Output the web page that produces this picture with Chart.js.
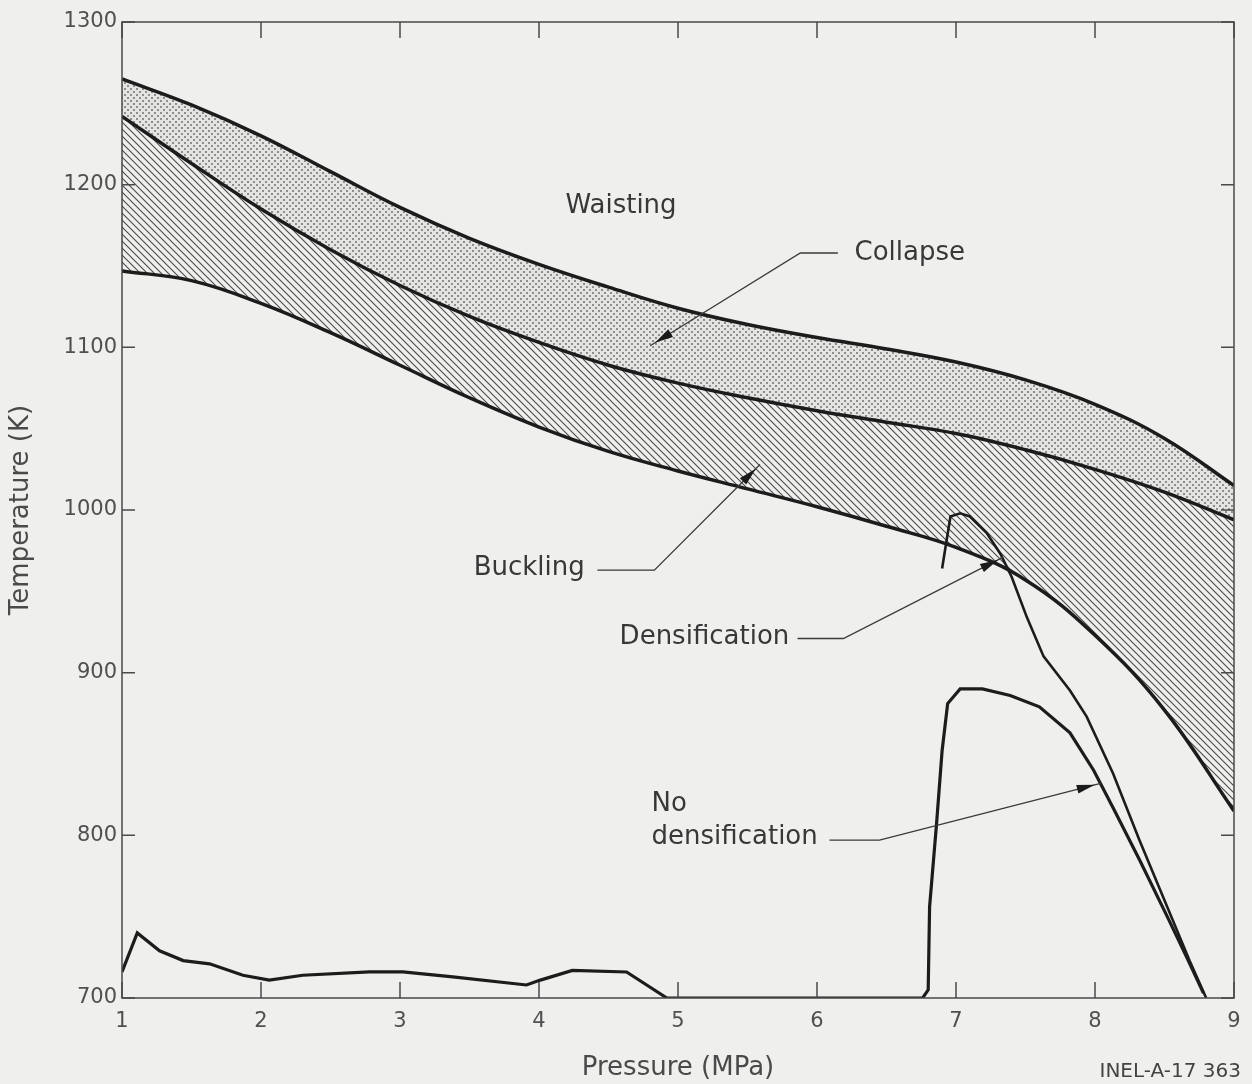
<!DOCTYPE html>
<html>
<head>
<meta charset="utf-8">
<script src="https://cdn.jsdelivr.net/npm/chart.js@4.4.1/dist/chart.umd.min.js"></script>
<style>
  html, body { margin: 0; padding: 0; background: #efefed; }
  #wrap { width: 1252px; height: 1084px; }
</style>
</head>
<body>
<div id="wrap"><canvas id="chart" width="1252" height="1084"></canvas></div>
<script>
/* ─── Data ───────────────────────────────────────────── */
const PRESSURE = [1, 1.5, 2, 2.5, 3, 3.5, 4, 4.5, 5, 5.5, 6, 6.5, 7, 7.5, 8, 8.5, 9];
// upper edge of collapse band (waisting above)
const WAISTING_EDGE = [1265, 1249, 1230, 1208, 1186, 1167, 1151, 1137, 1124, 1114, 1106, 1099, 1091, 1080, 1065, 1044, 1015];
// collapse / buckling boundary
const COLLAPSE_EDGE = [1242, 1213, 1185, 1160, 1138, 1119, 1103, 1089, 1078, 1069, 1061, 1054, 1047, 1037, 1025, 1011, 994];
// lower edge of buckling band
const BUCKLING_EDGE = [1147, 1141, 1127, 1109, 1089, 1069, 1051, 1036, 1024, 1013, 1002, 990, 977, 957, 923, 877, 815];

const DENS_P = [6.90, 6.96, 7.03, 7.10, 7.22, 7.32, 7.40, 7.51, 7.63, 7.82, 7.94, 8.13, 8.32, 8.52, 8.68, 8.80];
const DENS_T = [964, 996, 998, 996, 986, 973, 959, 934, 910, 889, 873, 838, 797, 756, 723, 700];

const NODENS_P = [1.0, 1.11, 1.27, 1.44, 1.63, 1.87, 2.06, 2.30, 2.78, 3.02, 3.38, 3.91, 4.01, 4.24, 4.63, 4.92,
                  6.76, 6.80, 6.81, 6.86, 6.90, 6.94, 7.03, 7.19, 7.39, 7.60, 7.82, 7.99, 8.13, 8.32, 8.52, 8.66, 8.78];
const NODENS_T = [716, 740, 729, 723, 721, 714, 711, 714, 716, 716, 713, 708, 711, 717, 716, 700,
                  700, 705, 756, 807, 852, 881, 890, 890, 886, 879, 863, 840, 817, 785, 750, 725, 703];

const X_TICKS = [1, 2, 3, 4, 5, 6, 7, 8, 9];
const Y_TICKS = [700, 800, 900, 1000, 1100, 1200, 1300];

// annotation labels and leader lines, in data coordinates
const LABELS = [
  { text: 'Waisting', x: 4.59, y: 1187, align: 'center' },
  { text: 'Collapse', x: 6.27, y: 1158, align: 'left' },
  { text: 'Buckling', x: 3.53, y: 964, align: 'left' },
  { text: 'Densification', x: 4.58, y: 922, align: 'left' },
  { text: 'No', x: 4.81, y: 819, align: 'left' },
  { text: 'densification', x: 4.81, y: 799, align: 'left' },
];
const LEADERS = [
  [[6.15, 1158], [5.88, 1158], [4.80, 1101]],
  [[4.42, 963], [4.83, 963], [5.59, 1028]],
  [[5.86, 921], [6.19, 921], [7.34, 971]],
  [[6.09, 797], [6.45, 797], [8.04, 832]],
];

/* ─── Fill patterns ───────────────────────────────────── */
function dotPattern() {
  const c = document.createElement('canvas');
  c.width = 6; c.height = 6;
  const g = c.getContext('2d');
  g.fillStyle = '#e4e4e2'; g.fillRect(0, 0, 6, 6);
  g.fillStyle = '#8e8e8c';
  g.fillRect(1, 1, 2, 2);
  g.fillRect(4, 4, 2, 2);
  return g.createPattern(c, 'repeat');
}
function hatchPattern() {
  const s = 7;
  const c = document.createElement('canvas');
  c.width = s; c.height = s;
  const g = c.getContext('2d');
  g.strokeStyle = '#4a4a4a'; g.lineWidth = 1.1;
  g.beginPath();
  g.moveTo(0, 0); g.lineTo(s, s);
  g.moveTo(-1, s - 1); g.lineTo(1, s + 1);
  g.moveTo(s - 1, -1); g.lineTo(s + 1, 1);
  g.stroke();
  return g.createPattern(c, 'repeat');
}

const pts = (xs, ys) => xs.map((x, i) => ({ x, y: ys[i] }));
const FONT = "'DejaVu Sans', Verdana, sans-serif";
const INK = '#1c1c1c';

/* ─── Frame, inward ticks, annotations ───────────────── */
const framePlugin = {
  id: 'frame',
  afterDraw(chart) {
    const { ctx, chartArea: a, scales: { x, y } } = chart;
    ctx.save();
    ctx.strokeStyle = '#4a4a4a'; ctx.lineWidth = 1.5;
    ctx.strokeRect(a.left, a.top, a.right - a.left, a.bottom - a.top);
    ctx.beginPath();
    X_TICKS.forEach(v => {
      const px = x.getPixelForValue(v);
      ctx.moveTo(px, a.bottom); ctx.lineTo(px, a.bottom - 16);
      ctx.moveTo(px, a.top); ctx.lineTo(px, a.top + 16);
    });
    Y_TICKS.forEach(v => {
      const py = y.getPixelForValue(v);
      ctx.moveTo(a.left, py); ctx.lineTo(a.left + 13, py);
      ctx.moveTo(a.right, py); ctx.lineTo(a.right - 13, py);
    });
    ctx.stroke();

    // leader lines with arrowheads
    ctx.strokeStyle = '#3a3a3a'; ctx.fillStyle = '#1a1a1a'; ctx.lineWidth = 1.3;
    LEADERS.forEach(path => {
      const p = path.map(([vx, vy]) => [x.getPixelForValue(vx), y.getPixelForValue(vy)]);
      ctx.beginPath();
      p.forEach(([px, py], i) => i ? ctx.lineTo(px, py) : ctx.moveTo(px, py));
      ctx.stroke();
      const [x1, y1] = p[p.length - 2], [x2, y2] = p[p.length - 1];
      const ang = Math.atan2(y2 - y1, x2 - x1);
      const tipX = x2 - Math.cos(ang) * 6, tipY = y2 - Math.sin(ang) * 6;
      ctx.save();
      ctx.translate(tipX, tipY); ctx.rotate(ang);
      ctx.beginPath();
      ctx.moveTo(0, 0); ctx.lineTo(-18, -4.5); ctx.lineTo(-18, 4.5); ctx.closePath();
      ctx.fill();
      ctx.restore();
    });

    ctx.fillStyle = '#383838';
    ctx.font = '26px ' + FONT;
    ctx.textBaseline = 'middle';
    LABELS.forEach(l => {
      ctx.textAlign = l.align;
      ctx.fillText(l.text, x.getPixelForValue(l.x), y.getPixelForValue(l.y));
    });

    ctx.font = '20px ' + FONT;
    ctx.textAlign = 'right';
    ctx.fillStyle = '#444';
    ctx.fillText('INEL-A-17 363', 1241, 1072);
    ctx.restore();
  }
};

Chart.defaults.font.family = FONT;
Chart.defaults.color = '#505050';

const curve = { borderColor: INK, borderWidth: 3.5, tension: 0.4, pointRadius: 0 };

new Chart(document.getElementById('chart'), {
  type: 'line',
  data: {
    datasets: [
      { ...curve, data: pts(PRESSURE, WAISTING_EDGE), backgroundColor: dotPattern(), fill: '+1' },
      { ...curve, data: pts(PRESSURE, COLLAPSE_EDGE), backgroundColor: hatchPattern(), fill: '+1' },
      { ...curve, data: pts(PRESSURE, BUCKLING_EDGE), fill: false },
      { data: pts(DENS_P, DENS_T), borderColor: INK, borderWidth: 2.6,
        fill: false, tension: 0, pointRadius: 0 },
      { data: pts(NODENS_P, NODENS_T), borderColor: INK, borderWidth: 3.2,
        fill: false, tension: 0, pointRadius: 0 },
    ]
  },
  options: {
    responsive: false,
    animation: false,
    devicePixelRatio: 1,
    layout: { padding: { top: 22, right: 18, left: 0, bottom: 0 } },
    plugins: {
      legend: { display: false },
      tooltip: { enabled: false },
      filler: { drawTime: 'beforeDatasetsDraw' }
    },
    scales: {
      x: {
        type: 'linear', min: 1, max: 9,
        afterFit: s => { s.height = 86; },
        afterBuildTicks: s => { s.ticks = X_TICKS.map(v => ({ value: v })); },
        grid: { display: false, drawTicks: false },
        border: { display: false },
        ticks: { padding: 11, font: { size: 21 }, maxRotation: 0, callback: v => String(v) },
        title: { display: true, text: 'Pressure (MPa)', font: { size: 26 }, color: '#4a4a4a',
                 padding: { top: 0, bottom: 0 } }
      },
      y: {
        type: 'linear', min: 700, max: 1300,
        afterFit: s => { s.width = 122; },
        afterBuildTicks: s => { s.ticks = Y_TICKS.map(v => ({ value: v })); },
        grid: { display: false, drawTicks: false },
        border: { display: false },
        ticks: { padding: 5, font: { size: 21 }, callback: v => String(v) },
        title: { display: true, text: 'Temperature (K)', font: { size: 26 }, color: '#4a4a4a',
                 padding: { top: 6, bottom: 0 } }
      }
    }
  },
  plugins: [framePlugin]
});
</script>
</body>
</html>
